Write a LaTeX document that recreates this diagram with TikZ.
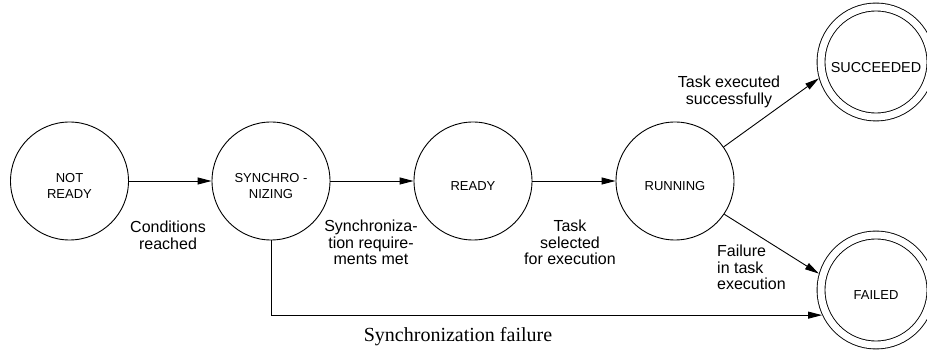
\documentclass[tikz,border=0pt]{standalone}
\usepackage{fontspec}
\setmainfont{Liberation Sans}
\newfontfamily\timesfont{Liberation Serif}
\usetikzlibrary{arrows.meta}
\begin{document}
\begin{tikzpicture}[x=1pt,y=-1pt,
  state/.style={circle, draw, line width=0.9pt, minimum size=118pt, inner sep=0pt},
  final/.style={circle, draw, line width=0.9pt, double, double distance=7pt,
                minimum size=110pt, inner sep=0pt, outer sep=4.5pt},
  stxt/.style={font=\fontsize{13}{16.5}\selectfont, align=center, yshift=-5pt, inner sep=0pt},
  lbl/.style={font=\fontsize{16}{16.5}\selectfont, align=center, inner sep=0pt},
  arr/.style={line width=0.9pt, -{Triangle[length=14pt,width=7pt]}},
]
\fill[white] (0,0) rectangle (927,352);
\useasboundingbox (0,0) rectangle (927,352);

\node[state, label={[stxt]center:NOT\\READY}] (nr) at (69.5,181) {};
\node[state, label={[stxt]center:SYNCHRO -\\NIZING}] (sync) at (271,181) {};
\node[state, label={[stxt]center:READY}] (ready) at (473,181) {};
\node[state, label={[stxt]center:RUNNING}] (run) at (675,181) {};
\node[final, label={[stxt, font=\fontsize{14.4}{16.5}\selectfont, yshift=-1pt]center:SUCCEEDED}] (succ) at (876,62) {};
\node[final, label={[stxt]center:FAILED}] (fail) at (876,290) {};

\node[lbl, anchor=north] (l1) at (168,221) {Conditions\\reached};
\node[lbl, anchor=north] (l2) at (371,220) {Synchroniza-\\tion require-\\ments met};
\node[lbl, anchor=north] (l3) at (570,220) {Task\\selected\\for execution};
\node[lbl, anchor=north] (l4) at (729,76) {Task executed\\successfully};
\node[lbl, anchor=north west, align=left] (l5) at (717,245) {Failure\\in task\\execution};
\node[font=\timesfont\fontsize{20}{24}\selectfont, anchor=base, inner sep=0pt] (l6) at (458,341.5) {Synchronization failure};

\draw[arr] (nr) -- (sync);
\draw[arr] (sync) -- (ready);
\draw[arr] (ready) -- (run);
\draw[arr] (run.35) -- (succ.196);
\draw[arr] (run.-34) -- (fail.164);
\draw[arr] (sync.south) |- (fail.205);
\end{tikzpicture}
\end{document}
